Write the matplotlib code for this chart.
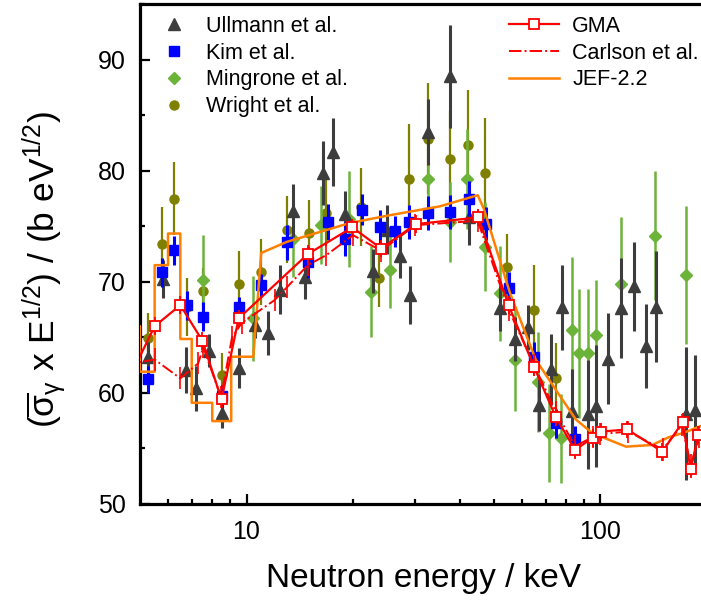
import numpy as np
import matplotlib
matplotlib.use('Agg')
import matplotlib.pyplot as plt
from matplotlib.lines import Line2D
from matplotlib.ticker import FixedLocator, FixedFormatter, NullFormatter

plt.rcParams['font.family'] = ['Liberation Sans', 'DejaVu Sans']
plt.rcParams['mathtext.fontset'] = 'custom'
plt.rcParams['mathtext.rm'] = 'Liberation Sans'
plt.rcParams['mathtext.it'] = 'Liberation Sans'
plt.rcParams['mathtext.default'] = 'regular'

# ---------------- data ----------------
ullmann_x = [5.26, 5.8, 6.75, 7.2, 7.85, 8.5, 9.5, 10.57, 11.5, 12.4, 13.5, 14.6, 16.4, 17.6, 19.0,
             22.8, 24.9, 27.1, 29.0, 32.5, 37.6, 42.5, 51.9, 57.4, 62.5, 67.0, 72.3, 77.8, 83.0,
             92.4, 97.4, 104.7, 114.5, 124.3, 134.6, 143.2, 174.5, 184.4]
ullmann_y = [63.25, 70.25, 62.05, 60.4, 63.8, 58.2, 62.2, 66.1, 65.4, 69.3, 76.4, 70.45, 79.8, 81.7, 76.1,
             71.0, 74.7, 72.35, 68.8, 83.5, 88.5, 75.8, 67.6, 64.85, 65.9, 58.9, 62.1, 67.7, 58.4,
             58.05, 58.8, 63.05, 67.6, 69.6, 64.2, 67.75, 58.1, 58.45]
ullmann_e = [1.3, 1.7, 2.1, 2.0, 1.5, 1.4, 1.8, 1.2, 2.0, 2.2, 2.4, 2.0, 2.9, 3.1, 2.1,
             2.0, 2.2, 2.0, 2.6, 3.0, 4.6, 2.5, 2.0, 2.0, 2.0, 2.3, 3.2, 3.8, 3.7,
             4.9, 5.5, 4.1, 4.5, 4.0, 3.8, 5.0, 6.0, 5.0]

kim_x = [5.26, 5.77, 6.25, 6.8, 7.52, 8.5, 9.5, 10.98, 13.0, 14.9, 16.95, 19.0, 21.2, 23.8, 26.25,
         28.7, 32.5, 37.5, 42.4, 47.4, 55.0, 64.9, 74.7, 84.9]
kim_y = [61.2, 70.85, 72.85, 67.9, 66.85, 59.7, 67.75, 69.7, 73.55, 71.75, 75.4, 73.85, 76.5, 74.95, 74.55,
         75.4, 76.2, 76.3, 77.5, 75.25, 69.4, 63.25, 57.25, 55.85]
kim_e = [1.2, 1.3, 1.3, 1.3, 1.3, 1.0, 0.9, 1.0, 1.6, 1.4, 1.6, 1.5, 1.4, 1.5, 1.4,
         1.5, 1.5, 1.5, 1.6, 1.5, 1.5, 1.3, 1.3, 1.2]

mingrone_x = [7.52, 10.45, 13.5, 16.2, 19.5, 22.45, 25.4, 32.5, 37.6, 42.0, 47.2, 51.9, 57.4, 66.5,
              71.6, 77.5, 82.9, 87.1, 92.4, 97.4, 114.6, 142.7, 174.3]
mingrone_y = [70.2, 66.7, 73.9, 75.1, 75.65, 69.1, 71.05, 79.25, 75.4, 79.3, 73.15, 68.96, 63.0, 61.0,
              56.35, 55.9, 65.7, 63.55, 63.55, 65.2, 69.8, 74.15, 70.6]
mingrone_e = [4.0, 3.8, 3.5, 3.5, 4.3, 4.1, 3.4, 4.0, 3.6, 4.5, 4.0, 4.3, 4.6, 4.5,
              4.4, 4.0, 6.5, 5.8, 5.8, 5.0, 6.0, 5.8, 6.2]

wright_x = [5.26, 5.77, 6.25, 6.8, 7.52, 8.5, 9.5, 10.98, 13.0, 15.0, 16.8, 21.1, 23.75, 28.7,
            32.5, 37.6, 42.2, 47.3, 54.6, 64.8, 74.8]
wright_y = [64.9, 73.4, 77.5, 67.7, 69.2, 61.6, 69.8, 70.9, 74.7, 74.4, 76.2, 76.75, 70.3, 79.3,
            82.9, 81.05, 82.3, 79.8, 71.3, 67.5, 61.3]
wright_e = [2.3, 3.3, 3.3, 2.6, 2.0, 2.0, 3.0, 3.0, 3.0, 3.0, 3.0, 3.5, 2.6, 4.9,
            5.0, 4.3, 5.0, 5.0, 3.0, 4.0, 3.2]

gma_x = [4.5, 5.5, 6.5, 7.5, 8.5, 9.5, 14.9, 19.9, 24.0, 30.1, 45.2, 55.0, 64.9, 74.8, 84.8,
         95.0, 100.2, 119.0, 149.6, 170.6, 179.8, 189.0, 200.0]
gma_y = [60.3, 66.0, 67.9, 64.7, 59.4, 66.7, 72.5, 74.9, 73.0, 75.2, 75.8, 67.9, 62.35, 57.8, 54.85,
         55.95, 56.5, 56.7, 54.7, 57.35, 53.1, 56.2, 56.8]
gma_e = [0.8, 0.8, 0.8, 0.8, 0.8, 0.8, 0.8, 0.8, 0.8, 0.8, 0.8, 0.8, 0.8, 0.8, 0.8,
         0.8, 0.8, 0.8, 0.8, 0.8, 0.8, 0.8, 0.8]

carlson_x = [4.5, 5.5, 6.5, 7.3, 7.55, 8.47, 9.1, 9.7, 12.0, 13.0, 14.9, 16.8, 20.0, 24.0, 30.0,
             45.0, 55.0, 64.9, 74.8, 84.8, 95.0, 100.0, 120.0, 150.0, 170.0, 180.0, 190.0, 200.0]
carlson_y = [62.5, 63.0, 61.3, 62.65, 64.1, 59.6, 65.0, 66.3, 68.35, 69.5, 71.5, 72.4, 74.2, 72.8, 75.1,
             75.5, 67.5, 62.5, 58.3, 55.2, 56.0, 56.3, 56.5, 54.9, 57.1, 53.5, 56.0, 56.5]
carlson_e = [1.0] * len(carlson_x)

jef_x = [4.5, 5.0, 5.0, 5.5, 5.5, 6.0, 6.0, 6.5, 6.5, 7.0, 7.0, 8.0, 8.0, 9.05, 9.05, 10.45,
         11.0, 13.0, 19.6, 25.4, 35.2, 45.0, 46.8, 55.5, 65.6, 76.5, 85.2, 95.0, 105.0, 118.0,
         140.0, 156.0, 172.0, 190.0, 200.0]
jef_y = [66.0, 66.0, 61.9, 61.9, 71.5, 71.5, 74.35, 74.35, 64.85, 64.85, 59.1, 59.1, 57.45, 57.45,
         63.25, 63.25, 72.6, 73.6, 75.3, 76.0, 76.8, 77.8, 76.6, 69.0, 63.0, 59.8, 57.6, 56.35,
         55.8, 55.15, 55.3, 56.0, 56.4, 56.95, 57.2]

xticks_major = [10, 100]
xtick_labels = ['10', '100']
xticks_minor = [6, 7, 8, 9, 20, 30, 40, 50, 60, 70, 80, 90, 200]
yticks_major = [50, 60, 70, 80, 90]
yticks_minor = [55, 65, 75, 85, 95]

C_ULL = '#3d3d3d'
C_KIM = '#0000ff'
C_MIN = '#6cb33a'
C_WRI = '#7f7f00'
C_RED = '#ff0000'
C_JEF = '#ff8000'

# ---------------- figure ----------------
fig = plt.figure(figsize=(7.01, 6.04), dpi=100)
ax = fig.add_axes([140 / 701, 1 - 503.8 / 604, 567 / 701, (503.8 - 4.3) / 604])

ax.errorbar(wright_x, wright_y, yerr=wright_e, fmt='o', color=C_WRI, ms=6.5, elinewidth=1.6,
            capsize=0, zorder=2)
ax.errorbar(mingrone_x, mingrone_y, yerr=mingrone_e, fmt='D', color=C_MIN, ms=6, elinewidth=1.8,
            capsize=0, zorder=3)
ax.errorbar(ullmann_x, ullmann_y, yerr=ullmann_e, fmt='^', color=C_ULL, ms=8, elinewidth=2.2,
            capsize=0, zorder=4)
ax.errorbar(kim_x, kim_y, yerr=kim_e, fmt='s', color=C_KIM, ms=6.5, elinewidth=2.2,
            capsize=0, zorder=5)
ax.plot(jef_x, jef_y, color=C_JEF, lw=1.8, zorder=6)
ax.errorbar(carlson_x, carlson_y, yerr=carlson_e, fmt='-.', color=C_RED, lw=1.4, elinewidth=1.2,
            capsize=0, zorder=7)
ax.errorbar(gma_x, gma_y, yerr=gma_e, fmt='-s', color=C_RED, lw=1.6, ms=7, mfc='white',
            mec=C_RED, mew=1.3, elinewidth=1.3, capsize=0, zorder=8)

ax.set_xscale('log')
ax.set_xlim(5, 200)
ax.set_ylim(50, 95)
ax.xaxis.set_major_locator(FixedLocator(xticks_major))
ax.xaxis.set_major_formatter(FixedFormatter(xtick_labels))
ax.xaxis.set_minor_locator(FixedLocator(xticks_minor))
ax.xaxis.set_minor_formatter(NullFormatter())
ax.yaxis.set_major_locator(FixedLocator(yticks_major))
ax.yaxis.set_minor_locator(FixedLocator(yticks_minor))

for s in ['left', 'bottom', 'top', 'right']:
    ax.spines[s].set_linewidth(2.3)
ax.tick_params(which='both', direction='in', top=False, right=False, width=1.6, labelsize=18)
ax.tick_params(which='major', length=7)
ax.tick_params(which='minor', length=3.5)
ax.tick_params(axis='x', pad=12)
ax.tick_params(axis='y', pad=10)

ax.set_xlabel('Neutron energy / keV', fontsize=24, va='center')
ax.xaxis.set_label_coords(0.5, -0.149)
ax.set_ylabel(r'($\overline{\sigma}_{\gamma}$ x E$^{1/2}$) / (b eV$^{1/2}$)', fontsize=25.5, va='center')
ax.yaxis.set_label_coords(-0.17, 0.47)

h1 = [Line2D([], [], marker='^', ls='none', color=C_ULL, ms=8),
      Line2D([], [], marker='s', ls='none', color=C_KIM, ms=6.5),
      Line2D([], [], marker='D', ls='none', color=C_MIN, ms=6),
      Line2D([], [], marker='o', ls='none', color=C_WRI, ms=6.5)]
l1 = ['Ullmann et al.', 'Kim et al.', 'Mingrone et al.', 'Wright et al.']
leg1 = ax.legend(h1, l1, loc='upper left', bbox_to_anchor=(0.022, 0.977), frameon=False,
                 fontsize=15.5, borderpad=0, borderaxespad=0, handlelength=2.0,
                 handletextpad=0.5, labelspacing=0.27, numpoints=1)
ax.add_artist(leg1)

h2 = [Line2D([], [], marker='s', color=C_RED, lw=1.6, ms=7, mfc='white', mec=C_RED, mew=1.3),
      Line2D([], [], ls='-.', color=C_RED, lw=1.4),
      Line2D([], [], color=C_JEF, lw=1.8)]
l2 = ['GMA', 'Carlson et al.', 'JEF-2.2']
ax.legend(h2, l2, loc='upper left', bbox_to_anchor=(0.651, 0.977), frameon=False,
          fontsize=15.5, borderpad=0, borderaxespad=0, handlelength=2.33,
          handletextpad=0.6, labelspacing=0.27, numpoints=1)

fig.savefig('out.png', dpi=100)
